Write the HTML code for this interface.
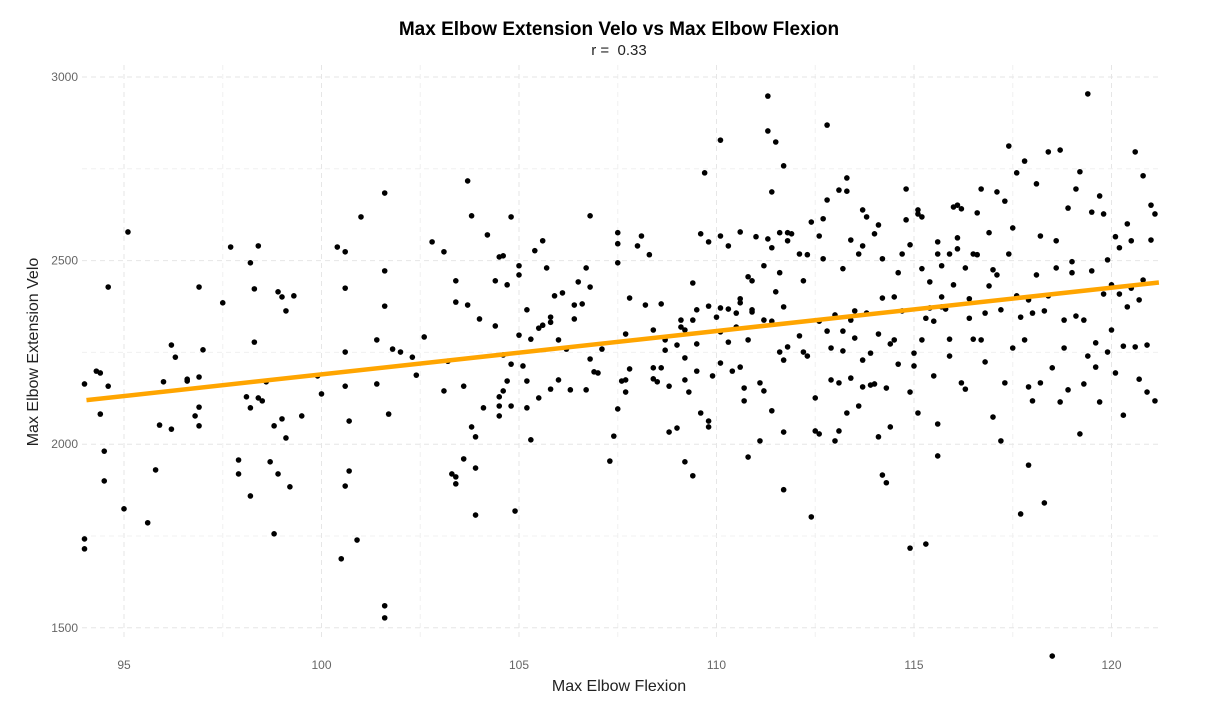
<!DOCTYPE html>
<html><head><meta charset="utf-8"><style>
body{margin:0;background:#fff;}
svg{display:block;font-family:"Liberation Sans",sans-serif;}
</style></head><body>
<svg id="chart" width="1209" height="705">
<text x="619" y="35" text-anchor="middle" font-size="19" font-weight="bold" fill="#000">Max Elbow Extension Velo vs Max Elbow Flexion</text>
<text x="619" y="55" text-anchor="middle" font-size="15" fill="#222" xml:space="preserve">r =  0.33</text>
<text x="619" y="691" text-anchor="middle" font-size="16" fill="#222">Max Elbow Flexion</text>
<text transform="translate(38,352) rotate(-90)" text-anchor="middle" font-size="16" fill="#222">Max Elbow Extension Velo</text>
<g id="grid"></g><g id="ticks"></g><g id="pts"></g><g id="fit"></g>
</svg>
<script>
const xTicks=[95,100,105,110,115,120];
const yTicks=[1500,2000,2500,3000];
const xVals=[94.0,94.0,94.0,94.3,94.4,94.4,94.5,94.5,94.6,94.6,95.0,95.1,95.6,95.8,95.9,96.0,96.2,96.2,96.3,96.6,96.6,96.8,96.9,96.9,96.9,97.0,96.9,97.5,97.7,97.9,97.9,98.1,98.2,98.2,98.2,98.3,98.3,98.4,98.4,98.5,98.6,98.7,98.8,98.8,98.9,98.9,99.0,99.1,99.0,99.1,99.2,99.3,99.5,99.9,100.0,100.4,100.6,100.6,100.6,100.6,100.5,100.6,100.7,100.7,100.9,101.0,101.4,101.4,101.6,101.6,101.6,101.6,101.6,101.7,101.8,102.0,102.3,102.4,102.6,102.8,103.1,103.1,103.2,103.3,103.4,103.4,103.4,103.4,103.6,103.6,103.7,103.7,103.8,103.8,103.9,103.9,103.9,104.0,104.1,104.2,104.4,104.4,104.5,104.5,104.5,104.5,104.6,104.6,104.6,104.7,104.7,104.8,104.8,104.8,104.9,105.0,105.0,105.0,105.1,105.2,105.2,105.2,105.3,105.3,105.4,105.5,105.5,105.6,105.6,105.7,105.8,105.8,105.8,105.9,106.0,106.0,106.1,106.2,106.3,106.4,106.4,106.5,106.6,106.7,106.7,106.8,106.8,106.8,106.9,107.0,107.1,107.3,107.4,107.5,107.5,107.5,107.5,107.6,107.7,107.7,107.7,107.8,107.8,108.0,108.1,108.2,108.3,108.4,108.4,108.4,108.5,108.6,108.6,108.7,108.7,108.8,108.8,109.0,109.0,109.1,109.1,109.2,109.2,109.2,109.2,109.3,109.4,109.4,109.4,109.5,109.5,109.5,109.6,109.6,109.7,109.8,109.8,109.8,109.8,109.9,110.0,110.1,110.1,110.1,110.1,110.1,110.3,110.3,110.3,110.4,110.5,110.5,110.6,110.6,110.6,110.6,110.7,110.7,110.8,110.8,110.8,110.9,110.9,110.9,111.0,111.1,111.1,111.2,111.2,111.2,111.3,111.3,111.3,111.4,111.4,111.4,111.4,111.5,111.5,111.6,111.6,111.6,111.7,111.7,111.7,111.7,111.7,111.8,111.8,111.8,111.9,
112.1,112.1,112.2,112.2,112.3,112.3,112.4,112.4,112.5,112.5,112.6,112.6,112.6,112.7,112.7,112.8,112.8,112.8,112.9,112.9,113.0,113.0,113.1,113.1,113.1,113.2,113.2,113.2,113.3,113.3,113.3,113.4,113.4,113.4,113.5,113.5,113.6,113.6,113.7,113.7,113.7,113.7,113.8,113.8,113.9,113.9,114.0,114.0,114.1,114.1,114.1,114.2,114.2,114.2,114.3,114.3,114.4,114.4,114.5,114.5,114.6,114.6,114.7,114.7,114.8,114.8,114.9,114.9,114.9,115.0,115.0,115.1,115.1,115.1,115.2,115.2,115.2,115.3,115.3,115.4,115.4,115.5,115.5,115.6,115.6,115.6,115.6,115.7,115.7,115.7,115.8,115.9,115.9,115.9,116.0,116.0,116.1,116.1,116.1,116.2,116.2,116.3,116.3,116.4,116.4,116.5,116.5,116.6,116.6,116.7,116.7,116.8,116.8,116.9,116.9,117.0,117.0,117.1,117.1,117.2,117.2,117.3,117.3,117.4,117.4,117.5,117.5,117.6,117.6,117.7,117.7,117.8,117.8,117.9,117.9,117.9,118.0,118.0,118.1,118.1,118.2,118.2,118.3,118.3,118.4,118.4,118.5,118.5,118.6,118.6,118.7,118.7,118.8,118.8,118.9,118.9,119.0,119.0,119.1,119.1,119.2,119.2,119.3,119.3,119.4,119.4,119.5,119.5,119.6,119.6,119.7,119.7,119.8,119.8,119.9,119.9,120.0,120.0,120.1,120.1,120.2,120.2,120.3,120.3,120.4,120.4,120.5,120.5,120.6,120.6,120.7,120.7,120.8,120.8,120.9,120.9,121.0,121.0,121.1,121.1];
const yVals=[2164,1742,1715,2199,2194,2082,1981,1900,2428,2158,1824,2578,1786,1930,2052,2170,2270,2041,2237,2172,2177,2077,2183,2050,2428,2257,2101,2385,2537,1919,1957,2129,2494,1859,2099,2423,2278,2126,2540,2118,2170,1952,1756,2050,1919,2415,2401,2363,2069,2017,1884,2404,2077,2186,2137,2537,2425,2524,2158,1886,1688,2251,2063,1927,1739,2619,2164,2284,2472,2376,2684,1560,1527,2082,2259,2251,2237,2188,2292,2551,2145,2524,2226,1919,2445,1892,2387,1911,2158,1960,2379,2717,2622,2047,1807,2020,1935,2341,2099,2570,2445,2322,2129,2104,2077,2510,2243,2145,2513,2434,2172,2619,2218,2104,1818,2461,2486,2297,2213,2366,2172,2099,2012,2286,2527,2126,2316,2324,2554,2480,2346,2332,2150,2404,2175,2284,2412,2259,2148,2341,2379,2442,2382,2148,2480,2232,2622,2428,2197,2194,2259,1954,2022,2576,2546,2494,2096,2172,2300,2175,2142,2398,2205,2540,2567,2379,2516,2208,2178,2311,2170,2208,2382,2284,2256,2158,2033,2044,2270,2338,2319,2175,1952,2235,2311,2142,2439,2338,1914,2199,2273,2366,2085,2573,2739,2047,2376,2063,2551,2186,2346,2306,2371,2567,2828,2221,2368,2278,2540,2199,2319,2357,2578,2385,2396,2210,2118,2153,2456,2284,1965,2445,2360,2366,2565,2009,2167,2486,2338,2145,2948,2559,2853,2687,2535,2335,2091,2823,2415,2467,2251,2576,1876,2758,2033,2374,2229,2265,2554,2576,2573,
2295,2518,2251,2445,2240,2516,1802,2605,2126,2036,2567,2028,2335,2614,2505,2308,2665,2869,2262,2175,2352,2009,2036,2692,2167,2478,2254,2308,2725,2689,2085,2180,2556,2338,2363,2289,2104,2518,2540,2229,2638,2156,2357,2619,2248,2161,2573,2164,2020,2300,2597,1916,2505,2398,2153,1895,2273,2047,2284,2401,2467,2218,2518,2363,2695,2611,2543,2142,1717,2248,2213,2085,2638,2627,2619,2478,2284,1728,2343,2442,2371,2335,2186,1968,2518,2055,2551,2401,2486,2374,2368,2286,2240,2518,2646,2434,2651,2562,2532,2167,2641,2480,2150,2396,2343,2518,2286,2630,2516,2284,2695,2224,2357,2431,2576,2074,2475,2687,2461,2366,2009,2167,2662,2812,2518,2589,2262,2404,2739,1810,2346,2771,2284,2156,1943,2393,2118,2357,2709,2461,2567,2167,2363,1840,2796,2404,1423,2208,2554,2480,2115,2801,2262,2338,2148,2643,2467,2497,2349,2695,2742,2028,2164,2338,2954,2240,2472,2632,2210,2276,2676,2115,2409,2627,2502,2251,2311,2434,2565,2194,2409,2535,2267,2079,2374,2600,2425,2554,2265,2796,2177,2393,2731,2447,2270,2142,2556,2651,2118,2627];
const NS="http://www.w3.org/2000/svg";
const X=v=>124+(v-95)*39.5;
const Y=v=>77+(3000-v)*0.3672;
const L=82,R=1159,T=65,B=641;
function mk(tag,at,parent){const e=document.createElementNS(NS,tag);for(const k in at)e.setAttribute(k,at[k]);parent.appendChild(e);return e;}
const grid=document.getElementById('grid'),ticks=document.getElementById('ticks'),pts=document.getElementById('pts'),fit=document.getElementById('fit');
for(let i=0;i<xTicks.length;i++){
  const v=xTicks[i];
  const g=mk('line',{x1:X(v),x2:X(v),y1:T,y2:B,stroke:'#e6e6e6','stroke-dasharray':'5,4','stroke-width':1},grid);
  
  
  const m=mk('line',{x1:X(v+2.5),x2:X(v+2.5),y1:T,y2:B,stroke:'#f0f0f0','stroke-dasharray':'5,4','stroke-width':1},grid);
  
  
  const t=mk('text',{x:X(v),y:669,'text-anchor':'middle','font-size':12,fill:'#666'},ticks);
  t.textContent=v;
  
  
}
for(let i=0;i<yTicks.length;i++){
  const v=yTicks[i];
  const g=mk('line',{x1:L,x2:R,y1:Y(v),y2:Y(v),stroke:'#e6e6e6','stroke-dasharray':'5,4','stroke-width':1},grid);
  
  
  if(v<3000){const m=mk('line',{x1:L,x2:R,y1:Y(v+250),y2:Y(v+250),stroke:'#f0f0f0','stroke-dasharray':'5,4','stroke-width':1},grid);
  
  }
  const t=mk('text',{x:78,y:Y(v)+4,'text-anchor':'end','font-size':12,fill:'#666'},ticks);
  t.textContent=v;
  
  
}
const n=Math.min(xVals.length,yVals.length);
let sx=0,sy=0,sxx=0,sxy=0;
for(let i=0;i<n;i++){
  const c=mk('circle',{cx:X(xVals[i]),cy:Y(yVals[i]),r:2.8,fill:'#000'},pts);
  
  
  sx+=xVals[i];sy+=yVals[i];sxx+=xVals[i]*xVals[i];sxy+=xVals[i]*yVals[i];
}
const slope=(n*sxy-sx*sy)/(n*sxx-sx*sx),icpt=(sy-slope*sx)/n;
const x0=94.05,x1=121.2;
const ln=mk('line',{x1:X(x0),y1:Y(icpt+slope*x0),x2:X(x1),y2:Y(icpt+slope*x1),stroke:'#FFA500','stroke-width':4.5,'stroke-linecap':'butt'},fit);


</script>
</body></html>
